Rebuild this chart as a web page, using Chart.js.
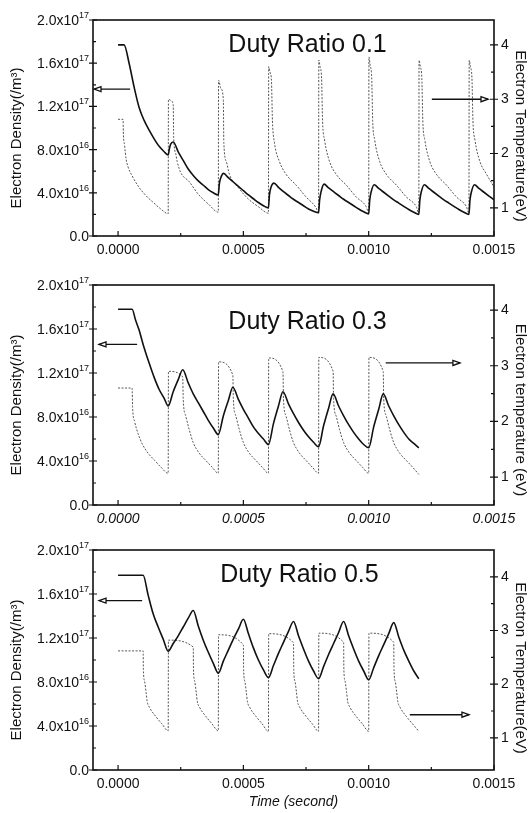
<!DOCTYPE html>
<html>
<head>
<meta charset="utf-8">
<script src="https://cdn.jsdelivr.net/npm/chart.js@4.4.1/dist/chart.umd.min.js"></script>
<style>
  body { margin: 0; background: #fff; }
  .panel { position: absolute; left: 0; }
</style>
</head>
<body>
<div class="panel" style="top:0px"><canvas id="chart1" width="531" height="265"></canvas></div>
<div class="panel" style="top:265px"><canvas id="chart2" width="531" height="268"></canvas></div>
<div class="panel" style="top:533px"><canvas id="chart3" width="531" height="280"></canvas></div>
<script>
// axis ticks (time in microseconds, density in 10^16 /m^3, temperature in eV)
const timeTicks = [0, 500, 1000, 1500];
const timeMinor = [250, 750, 1250];
const densTicks = [0, 4, 8, 12, 16, 20];
const densTickText = [["0.0", ""], ["4.0x10", "16"], ["8.0x10", "16"], ["1.2x10", "17"], ["1.6x10", "17"], ["2.0x10", "17"]];
const densMinor = [2, 6, 10, 14, 18];
const tempTicks = [1, 2, 3, 4];
const tempMinor = [1.5, 2.5, 3.5];

// Duty ratio 0.1
const dr1DensTime = [0, 24, 44, 64, 84, 104, 124, 144, 164, 184, 200,
  205, 210, 220, 240, 260, 280, 300, 320, 340, 360, 380, 400,
  404, 410, 421, 440, 460, 480, 500, 520, 540, 560, 580, 600,
  604, 610, 622, 640, 660, 680, 700, 720, 740, 760, 780, 800,
  804, 810, 822, 840, 860, 880, 900, 920, 940, 960, 980, 1000,
  1004, 1010, 1022, 1040, 1060, 1080, 1100, 1120, 1140, 1160, 1180, 1200,
  1204, 1210, 1222, 1240, 1260, 1280, 1300, 1320, 1340, 1360, 1380, 1400,
  1404, 1410, 1422, 1440, 1460, 1480, 1500];
const dr1Dens = [17.7, 17.7, 16.0, 13.8, 11.9, 10.7, 9.8, 9.0, 8.3, 7.8, 7.5,
  8.1, 8.5, 8.7, 7.8, 7.0, 6.2, 5.6, 5.1, 4.7, 4.3, 4.0, 3.8,
  4.8, 5.4, 5.8, 5.4, 5.0, 4.6, 4.2, 3.8, 3.45, 3.1, 2.8, 2.6,
  3.8, 4.5, 4.9, 4.5, 4.1, 3.75, 3.4, 3.1, 2.8, 2.5, 2.3, 2.15,
  3.3, 4.1, 4.8, 4.45, 4.1, 3.75, 3.4, 3.1, 2.8, 2.5, 2.25, 2.05,
  3.3, 4.1, 4.75, 4.4, 4.05, 3.7, 3.35, 3.05, 2.75, 2.45, 2.2, 2.0,
  3.3, 4.1, 4.75, 4.4, 4.05, 3.7, 3.35, 3.05, 2.75, 2.45, 2.2, 2.0,
  3.3, 4.1, 4.75, 4.4, 4.05, 3.7, 3.35];
const dr1TempTime = [0, 20, 21, 26, 32, 40, 56, 80, 112, 140, 170, 200,
  201, 210, 220, 222, 230, 236, 250, 284, 320, 360, 400,
  401, 410, 420, 422, 432, 444, 484, 520, 560, 600,
  601, 606, 612, 616, 624, 644, 670, 712, 750, 790, 800,
  801, 806, 812, 816, 824, 844, 870, 912, 950, 990, 1000,
  1001, 1006, 1012, 1016, 1024, 1044, 1070, 1112, 1150, 1190, 1200,
  1201, 1206, 1212, 1216, 1224, 1244, 1270, 1312, 1350, 1390, 1400,
  1401, 1406, 1412, 1416, 1424, 1444, 1470, 1500];
const dr1Temp = [2.63, 2.63, 2.4, 2.15, 1.9, 1.75, 1.59, 1.4, 1.22, 1.1, 0.98, 0.89,
  3.0, 2.98, 2.9, 2.3, 2.0, 1.85, 1.65, 1.48, 1.25, 1.07, 0.92,
  3.35, 3.2, 3.0, 2.2, 1.85, 1.62, 1.35, 1.16, 1.02, 0.9,
  3.6, 3.5, 3.35, 2.6, 2.2, 1.85, 1.62, 1.41, 1.2, 1.0, 0.9,
  3.72, 3.6, 3.39, 2.6, 2.25, 1.85, 1.62, 1.41, 1.2, 1.02, 0.9,
  3.78, 3.62, 3.4, 2.6, 2.25, 1.85, 1.62, 1.41, 1.2, 1.02, 0.9,
  3.72, 3.6, 3.39, 2.6, 2.25, 1.85, 1.62, 1.41, 1.2, 1.02, 0.9,
  3.72, 3.6, 3.39, 2.6, 2.25, 1.85, 1.62, 1.38];

// Duty ratio 0.3
const dr3DensTime = [0, 56, 70, 84, 100, 124, 144, 164, 184, 200,
  220, 240, 258, 280, 300, 320, 340, 360, 380, 400,
  420, 440, 458, 480, 500, 520, 540, 560, 580, 600,
  620, 640, 658, 680, 700, 720, 740, 760, 780, 800,
  820, 840, 858, 880, 900, 920, 940, 960, 980, 1000,
  1020, 1040, 1058, 1080, 1100, 1120, 1140, 1160, 1180, 1200];
const dr3Dens = [17.8, 17.8, 16.8, 15.9, 14.6, 12.9, 11.6, 10.5, 9.7, 9.0,
  10.3, 11.4, 12.3, 11.1, 10.1, 9.3, 8.5, 7.7, 7.0, 6.4,
  8.1, 9.5, 10.7, 9.6, 8.7, 7.9, 7.1, 6.5, 6.0, 5.5,
  7.4, 9.0, 10.3, 9.2, 8.3, 7.5, 6.8, 6.2, 5.7, 5.3,
  7.2, 8.8, 10.1, 9.0, 8.1, 7.3, 6.6, 6.0, 5.5, 5.2,
  7.1, 8.7, 10.1, 9.0, 8.1, 7.3, 6.6, 6.0, 5.6, 5.2];
const dr3TempTime = [0, 56, 58, 66, 80, 96, 120, 146, 171, 200,
  201, 258, 260, 270, 284, 300, 324, 350, 375, 400,
  401, 458, 460, 470, 484, 500, 524, 550, 575, 600,
  601, 658, 660, 670, 684, 700, 724, 750, 775, 800,
  801, 858, 860, 870, 884, 900, 924, 950, 975, 1000,
  1001, 1058, 1060, 1070, 1084, 1100, 1124, 1150, 1175, 1200];
const dr3Temp = [2.6, 2.6, 2.25, 2.0, 1.78, 1.6, 1.43, 1.3, 1.18, 1.07,
  2.9, 2.8, 2.4, 2.1, 1.85, 1.62, 1.43, 1.3, 1.18, 1.07,
  3.07, 2.83, 2.4, 2.1, 1.85, 1.62, 1.43, 1.3, 1.18, 1.07,
  3.14, 2.89, 2.4, 2.1, 1.85, 1.62, 1.43, 1.3, 1.18, 1.07,
  3.15, 2.9, 2.4, 2.1, 1.85, 1.62, 1.43, 1.3, 1.18, 1.07,
  3.15, 2.9, 2.4, 2.1, 1.85, 1.62, 1.43, 1.3, 1.18, 1.05];

// Duty ratio 0.5
const dr5DensTime = [0, 100, 120, 140, 160, 180, 200,
  220, 240, 260, 280, 300, 320, 340, 360, 380, 400,
  420, 440, 460, 480, 500, 520, 540, 560, 580, 600,
  620, 640, 660, 680, 700, 720, 740, 760, 780, 800,
  820, 840, 860, 880, 900, 920, 940, 960, 980, 1000,
  1020, 1040, 1060, 1080, 1100, 1120, 1140, 1160, 1180, 1200];
const dr5Dens = [17.7, 17.7, 15.9, 14.2, 13.0, 11.9, 10.8,
  11.5, 12.2, 13.0, 13.8, 14.5, 13.1, 11.8, 10.7, 9.7, 8.8,
  9.9, 10.9, 11.9, 12.8, 13.7, 12.4, 11.1, 10.0, 9.1, 8.4,
  9.5, 10.6, 11.6, 12.6, 13.5, 12.2, 11.0, 9.9, 9.0, 8.3,
  9.4, 10.5, 11.5, 12.5, 13.5, 12.2, 11.0, 9.9, 9.0, 8.2,
  9.3, 10.4, 11.4, 12.4, 13.4, 12.1, 10.9, 9.9, 9.0, 8.3];
const dr5TempTime = [0, 100, 101, 106, 112, 116, 125, 150, 175, 200,
  201, 300, 301, 306, 312, 316, 325, 350, 375, 400,
  401, 500, 501, 506, 512, 516, 525, 550, 575, 600,
  601, 700, 701, 706, 712, 716, 725, 750, 775, 800,
  801, 900, 901, 906, 912, 916, 925, 950, 975, 1000,
  1001, 1100, 1101, 1106, 1112, 1116, 1125, 1150, 1175, 1200];
const dr5Temp = [2.62, 2.62, 2.27, 2.05, 1.84, 1.68, 1.57, 1.4, 1.26, 1.13,
  2.82, 2.69, 2.27, 2.05, 1.84, 1.68, 1.57, 1.4, 1.26, 1.13,
  2.92, 2.73, 2.27, 2.05, 1.84, 1.68, 1.57, 1.4, 1.26, 1.12,
  2.94, 2.77, 2.27, 2.05, 1.84, 1.68, 1.57, 1.4, 1.26, 1.12,
  2.95, 2.78, 2.27, 2.05, 1.84, 1.68, 1.57, 1.4, 1.26, 1.12,
  2.95, 2.78, 2.27, 2.05, 1.84, 1.68, 1.57, 1.4, 1.26, 1.12];

const FONT = "'Liberation Sans', Arial, sans-serif";
const INK = "#111";

function pts(xs, ys) {
  return xs.map((x, i) => ({ x: x, y: ys[i] }));
}

// frame, inward ticks, superscript labels, titles and arrows
const decor = {
  id: "decor",
  afterDraw(chart, args, o) {
    const ctx = chart.ctx, a = chart.chartArea;
    const sx = chart.scales.x, sy = chart.scales.y, st = chart.scales.y1;
    ctx.save();
    ctx.strokeStyle = INK;
    ctx.lineWidth = 1.6;
    ctx.strokeRect(a.left, a.top, a.right - a.left, a.bottom - a.top);

    ctx.lineWidth = 1.2;
    ctx.beginPath();
    timeTicks.forEach(v => { const p = sx.getPixelForValue(v); ctx.moveTo(p, a.bottom); ctx.lineTo(p, a.bottom - 5); });
    timeMinor.forEach(v => { const p = sx.getPixelForValue(v); ctx.moveTo(p, a.bottom); ctx.lineTo(p, a.bottom - 3); });
    densTicks.forEach(v => { const p = sy.getPixelForValue(v); ctx.moveTo(a.left - 4, p); ctx.lineTo(a.left + 4, p); });
    densMinor.forEach(v => { const p = sy.getPixelForValue(v); ctx.moveTo(a.left, p); ctx.lineTo(a.left + 3, p); });
    tempTicks.forEach(v => { const p = st.getPixelForValue(v); ctx.moveTo(a.right - 4, p); ctx.lineTo(a.right + 4, p); });
    tempMinor.forEach(v => { const p = st.getPixelForValue(v); ctx.moveTo(a.right - 3, p); ctx.lineTo(a.right, p); });
    ctx.stroke();

    // left tick labels with exponent
    ctx.fillStyle = INK;
    ctx.textAlign = "left";
    ctx.textBaseline = "alphabetic";
    densTicks.forEach((v, i) => {
      const base = densTickText[i][0], sup = densTickText[i][1];
      const p = sy.getPixelForValue(v);
      ctx.font = "9px " + FONT;
      const ws = ctx.measureText(sup).width;
      ctx.font = "14px " + FONT;
      const wb = ctx.measureText(base).width;
      const xr = a.left - 4;
      ctx.fillText(base, xr - ws - wb, p + 5);
      ctx.font = "9px " + FONT;
      ctx.fillText(sup, xr - ws, p - 2);
    });

    // axis titles
    ctx.font = "15px " + FONT;
    ctx.textAlign = "center";
    ctx.textBaseline = "middle";
    const mid = (a.top + a.bottom) / 2;
    ctx.save();
    ctx.translate(17, mid + o.leftShift);
    ctx.rotate(-Math.PI / 2);
    ctx.fillText(o.leftTitle, 0, 0);
    ctx.restore();
    ctx.save();
    ctx.translate(chart.width - 11, mid + o.rightShift);
    ctx.rotate(Math.PI / 2);
    ctx.fillText(o.rightTitle, 0, 0);
    ctx.restore();

    // panel label
    ctx.font = "25px " + FONT;
    ctx.textBaseline = "alphabetic";
    ctx.fillText(o.title.text, sx.getPixelForValue(o.title.x), sy.getPixelForValue(o.title.y));

    // arrows pointing to the axis of each curve
    ctx.lineWidth = 1.3;
    ctx.fillStyle = "#fff";
    o.arrows.forEach(ar => {
      const sc = chart.scales[ar.axis];
      const yp = sc.getPixelForValue(ar.v);
      const x0 = sx.getPixelForValue(ar.from), x1 = sx.getPixelForValue(ar.to);
      const tip = ar.head === "left" ? x0 : x1;
      const dir = ar.head === "left" ? 1 : -1;
      ctx.beginPath();
      ctx.moveTo(x0, yp);
      ctx.lineTo(x1, yp);
      ctx.stroke();
      ctx.beginPath();
      ctx.moveTo(tip, yp);
      ctx.lineTo(tip + dir * 7, yp - 2.5);
      ctx.lineTo(tip + dir * 7, yp + 2.5);
      ctx.closePath();
      ctx.fill();
      ctx.stroke();
    });
    ctx.restore();
  }
};

function makeChart(id, cfg) {
  const cv = document.getElementById(id);
  return new Chart(cv.getContext("2d"), {
    type: "line",
    data: {
      datasets: [
        {
          data: pts(cfg.densTime, cfg.dens),
          yAxisID: "y",
          borderColor: INK,
          borderWidth: 1.6,
          pointRadius: 0,
          cubicInterpolationMode: "monotone"
        },
        {
          data: pts(cfg.tempTime, cfg.temp),
          yAxisID: "y1",
          borderColor: "#555",
          borderWidth: 1,
          borderDash: [2, 1.5],
          pointRadius: 0,
          cubicInterpolationMode: "monotone"
        }
      ]
    },
    options: {
      responsive: false,
      animation: false,
      layout: { padding: { top: cfg.top, left: 0, right: 0, bottom: 0 } },
      plugins: {
        legend: { display: false },
        tooltip: { enabled: false },
        decor: cfg.decor
      },
      scales: {
        x: {
          type: "linear",
          min: -100,
          max: 1500,
          afterBuildTicks: s => { s.ticks = timeTicks.map(v => ({ value: v })); },
          afterFit: s => { s.height = cv.height - cfg.bottom; },
          grid: { display: false, drawTicks: false },
          border: { display: false },
          ticks: {
            padding: 6,
            color: INK,
            maxRotation: 0,
            font: { family: FONT, size: 14, style: cfg.italic ? "italic" : "normal" },
            callback: v => (v / 1e6).toFixed(4)
          },
          title: {
            display: !!cfg.xTitle,
            text: cfg.xTitle || "",
            color: INK,
            padding: { top: 0, bottom: 2 },
            font: { family: FONT, size: 14, style: "italic" }
          }
        },
        y: {
          position: "left",
          min: 0,
          max: 20,
          afterBuildTicks: s => { s.ticks = densTicks.map(v => ({ value: v })); },
          afterFit: s => { s.width = 93; },
          grid: { display: false, drawTicks: false },
          border: { display: false },
          ticks: { display: false }
        },
        y1: {
          position: "right",
          min: cfg.tMin,
          max: cfg.tMax,
          afterBuildTicks: s => { s.ticks = tempTicks.map(v => ({ value: v })); },
          afterFit: s => { s.width = 37; },
          grid: { display: false, drawTicks: false },
          border: { display: false },
          ticks: { padding: 7, color: INK, font: { family: FONT, size: 14 } }
        }
      }
    },
    plugins: [decor]
  });
}

makeChart("chart1", {
  densTime: dr1DensTime, dens: dr1Dens, tempTime: dr1TempTime, temp: dr1Temp,
  top: 20, bottom: 236, tMin: 0.48, tMax: 4.46, italic: false,
  decor: {
    title: { text: "Duty Ratio 0.1", x: 756, y: 17.0 },
    leftTitle: "Electron Density(/m\u00b3)", rightTitle: "Electron Temperature(eV)",
    leftShift: 10, rightShift: 8,
    arrows: [
      { axis: "y", v: 13.6, from: -96, to: 48, head: "left" },
      { axis: "y1", v: 3.0, from: 1252, to: 1476, head: "right" }
    ]
  }
});

makeChart("chart2", {
  densTime: dr3DensTime, dens: dr3Dens, tempTime: dr3TempTime, temp: dr3Temp,
  top: 20, bottom: 240, tMin: 0.5, tMax: 4.45, italic: true,
  decor: {
    title: { text: "Duty Ratio 0.3", x: 756, y: 16.0 },
    leftTitle: "Electron Density(/m\u00b3)", rightTitle: "Electron temperature (eV)",
    leftShift: 10, rightShift: 15,
    arrows: [
      { axis: "y", v: 14.6, from: -76, to: 76, head: "left" },
      { axis: "y1", v: 3.05, from: 1068, to: 1364, head: "right" }
    ]
  }
});

makeChart("chart3", {
  densTime: dr5DensTime, dens: dr5Dens, tempTime: dr5TempTime, temp: dr5Temp,
  top: 17, bottom: 237, tMin: 0.4, tMax: 4.5, italic: false, xTitle: "Time (second)",
  decor: {
    title: { text: "Duty Ratio 0.5", x: 724, y: 17.1 },
    leftTitle: "Electron Density(/m\u00b3)", rightTitle: "Electron Temperature(eV)",
    leftShift: 10, rightShift: 8,
    arrows: [
      { axis: "y", v: 15.4, from: -76, to: 96, head: "left" },
      { axis: "y1", v: 1.43, from: 1164, to: 1400, head: "right" }
    ]
  }
});
</script>
</body>
</html>
